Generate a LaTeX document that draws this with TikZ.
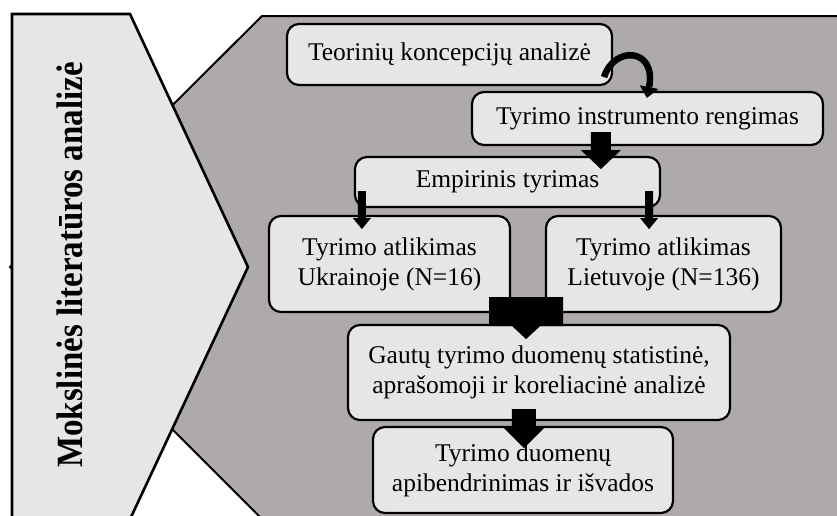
\documentclass[tikz,border=0pt]{standalone}
\usepackage{fontspec}
\setmainfont{Liberation Serif}
\usetikzlibrary{arrows.meta,calc}
\definecolor{lightg}{HTML}{E7E6E6}
\definecolor{darkg}{HTML}{AEAAAA}
\tikzset{
  box/.style={draw, line width=2.2pt, fill=lightg, rounded corners=12pt, align=center,
    inner sep=0pt, font=\fontsize{25.5}{30}\selectfont},
  panel/.style={draw, line width=2.6pt, line join=miter},
}
% #1 start coordinate (top centre), #2 shaft half width, #3 head half width,
% #4 shaft length, #5 head length
\newcommand\blkarrow[5]{%
  \fill[black] ($(#1)+(-#2,0)$) -- ($(#1)+(#2,0)$) -- ($(#1)+(#2,#4)$) -- ($(#1)+(#3,#4)$)
    -- ($(#1)+(0,{#4+#5})$) -- ($(#1)+(-#3,#4)$) -- ($(#1)+(-#2,#4)$) -- cycle;}
\begin{document}
\begin{tikzpicture}[x=1pt,y=-1pt]
\clip (0,0) rectangle (837,515);
% dark chevron
\draw[panel, fill=darkg, line width=2pt] (262,16) -- (870,16) -- (870,540) -- (283,540) -- (10,267) -- cycle;
% light pentagon
\draw[panel, fill=lightg] (12,14) -- (130,14) -- (248,267) -- (125,530) -- (12,530) -- cycle;
\node[rotate=90, font=\bfseries\fontsize{37}{42}\selectfont] (lt) at (70,265) {\scalebox{0.89}[1]{Mokslinės literatūros analizė}};
% boxes
\node[box, minimum width=325pt, minimum height=61pt] (b1) at (449.5,54.5) {Teorinių koncepcijų analizė};
\node[box, minimum width=351pt, minimum height=53pt] (b2) at (647.5,118.5) {Tyrimo instrumento rengimas};
\node[box, minimum width=305pt, minimum height=50pt] (b3) at (507.5,182) {Empirinis tyrimas};
\node[box, minimum width=241pt, minimum height=96pt] (b4) at (389.5,264) {Tyrimo atlikimas\\Ukrainoje (N=16)};
\node[box, minimum width=235pt, minimum height=96pt] (b5) at (663.5,264) {Tyrimo atlikimas\\Lietuvoje (N=136)};
\node[box, minimum width=382pt, minimum height=95pt] (b6) at (539,372.5) {Gautų tyrimo duomenų statistinė,\\aprašomoji ir koreliacinė analizė};
\node[box, minimum width=300pt, minimum height=86pt] (b7) at (523,470) {Tyrimo duomenų\\apibendrinimas ir išvados};
% curved arrow from b1 to b2
\coordinate (c1) at ($(b1.south east)+(-9,-9)$);
\coordinate (c2) at ($(b2.north west)+(176,7)$);
\draw[line width=6.5pt, -{Triangle[length=11pt,width=19pt,line width=0pt]}]
  (c1) .. controls ($(c1)+(10,-32)$) and ($(c2)+(10,-50)$) .. (c2);
% block arrows (start coordinates taken from the nodes)
\coordinate (a1) at ($(b2.south west)+(130,-14)$);
\blkarrow{a1}{10}{20}{18}{19}
\coordinate (a2) at ($(b3.south west)+(8,-17)$);
\blkarrow{a2}{4}{9}{27}{11}
\coordinate (a3) at ($(b3.south east)+(-12,-17)$);
\blkarrow{a3}{4}{9}{27}{11}
\coordinate (a4) at ($(b4.south east)+(15,-16)$);
\blkarrow{a4}{37}{14}{29}{13}
\coordinate (a5) at ($(b6.south west)+(177,-12)$);
\blkarrow{a5}{12}{20}{19}{20}
\end{tikzpicture}
\end{document}
